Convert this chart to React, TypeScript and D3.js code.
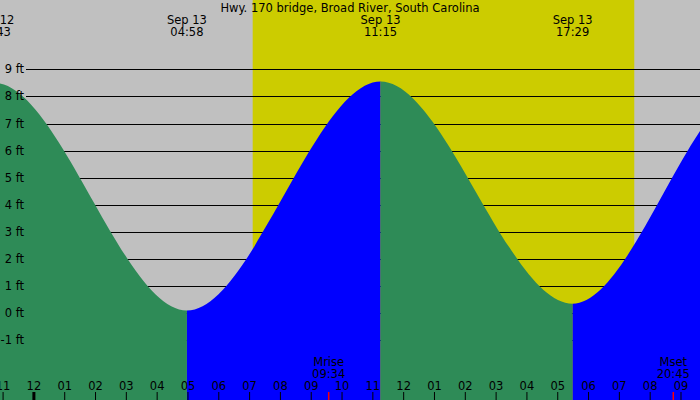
import React, { useEffect } from 'react';
import * as d3 from 'd3';

// tide extremes (first and last lie outside the window, they only shape the curve)
const tideTimes = ['2023-09-12 16:30', '2023-09-12 22:43', '2023-09-13 04:58', '2023-09-13 11:15', '2023-09-13 17:29', '2023-09-13 23:20', '2023-09-14 05:40'];
const tideHeights = [0.3, 8.5, 0.1, 8.55, 0.35, 8.4, 0.2];

const sunTimes = ['2023-09-13 07:06', '2023-09-13 19:29'];
const moonLabels = ['Mrise', 'Mset'];
const moonTimes = ['2023-09-13 09:34', '2023-09-13 20:45'];

const feetTicks = [-1, 0, 1, 2, 3, 4, 5, 6, 7, 8, 9];
const windowTimes = ['2023-09-12 22:54', '2023-09-13 21:37'];

const title = 'Hwy. 170 bridge, Broad River, South Carolina';

const W = 700;
const H = 400;
const FONT = '"DejaVu Sans", sans-serif';

const parse = d3.timeParse('%Y-%m-%d %H:%M');

const App: React.FC = () => {
  useEffect(() => {
    document.body.style.margin = '0';
  }, []);

  const x = d3.scaleTime()
    .domain(windowTimes.map(t => parse(t) as Date))
    .range([0, W]);
  const y = d3.scaleLinear().domain([0, 9]).range([313.2, 69.3]);

  const tide = tideTimes.map((t, i) => ({ date: parse(t) as Date, h: tideHeights[i] }));

  const area = d3.area<{ date: Date; h: number }>()
    .x(d => x(d.date))
    .y0(H)
    .y1(d => y(d.h))
    .curve(d3.curveMonotoneX);
  const areaPath = area(tide) || '';

  const segments = tide.slice(0, -1).map((d, i) => ({
    x0: x(d.date),
    x1: x(tide[i + 1].date),
    rising: tide[i + 1].h > d.h,
  }));

  // only the extremes near the window get a label
  const labelled = tide.filter(d => x(d.date) > -30 && x(d.date) < W + 30);

  const sunrise = x(parse(sunTimes[0]) as Date);
  const sunset = x(parse(sunTimes[1]) as Date);

  const hourTicks = d3.timeHour.range(d3.timeHour.floor(x.domain()[0]), x.domain()[1]);
  const fmtHour = d3.timeFormat('%I');
  const fmtDay = d3.timeFormat('%b %d');
  const fmtTime = d3.timeFormat('%H:%M');

  return (
    <svg width={W} height={H} style={{ display: 'block' }} fontFamily={FONT} fontSize={11.5}>
      <defs>
        {segments.map((s, i) => (
          <clipPath id={`seg${i}`} key={i}>
            <rect x={s.x0} y={0} width={s.x1 - s.x0} height={H} />
          </clipPath>
        ))}
      </defs>
      <rect x={0} y={0} width={W} height={H} fill="#c0c0c0" />
      <rect x={sunrise} y={0} width={sunset - sunrise} height={H} fill="#cccc00" />

      {feetTicks.map(f => (
        <line key={f} x1={26} x2={W} y1={Math.round(y(f)) + 0.5} y2={Math.round(y(f)) + 0.5} stroke="#000" strokeWidth={1} />
      ))}

      {segments.map((s, i) => (
        <path key={i} d={areaPath} fill={s.rising ? '#0000ff' : '#2e8b57'} clipPath={`url(#seg${i})`} />
      ))}

      {feetTicks.map(f => (
        <text key={f} x={24} y={y(f)} dy="0.35em" textAnchor="end" fill="#000">{`${f} ft`}</text>
      ))}

      <text x={W / 2} y={12} textAnchor="middle" fill="#000">{title}</text>

      {labelled.map((d, i) => (
        <g key={i} transform={`translate(${x(d.date)},0)`} textAnchor="middle" fill="#000">
          <text y={24}>{fmtDay(d.date)}</text>
          <text y={36}>{fmtTime(d.date)}</text>
        </g>
      ))}

      {hourTicks.map((h, i) => {
        const px = x(h);
        const midnight = h.getHours() === 0;
        return (
          <g key={i}>
            <line x1={px} x2={px} y1={392} y2={H} stroke="#000" strokeWidth={midnight ? 3 : 1} />
            <text x={px} y={390} textAnchor="middle" fill="#000">{fmtHour(h)}</text>
          </g>
        );
      })}

      {moonTimes.map((t, i) => {
        const d = parse(t) as Date;
        const px = x(d);
        return (
          <g key={i}>
            <line x1={px} x2={px} y1={392} y2={H} stroke="#ff0000" strokeWidth={1.5} />
            <text x={px} y={366} textAnchor="middle" fill="#000">{moonLabels[i]}</text>
            <text x={px} y={378} textAnchor="middle" fill="#000">{fmtTime(d)}</text>
          </g>
        );
      })}
    </svg>
  );
};

export default App;
